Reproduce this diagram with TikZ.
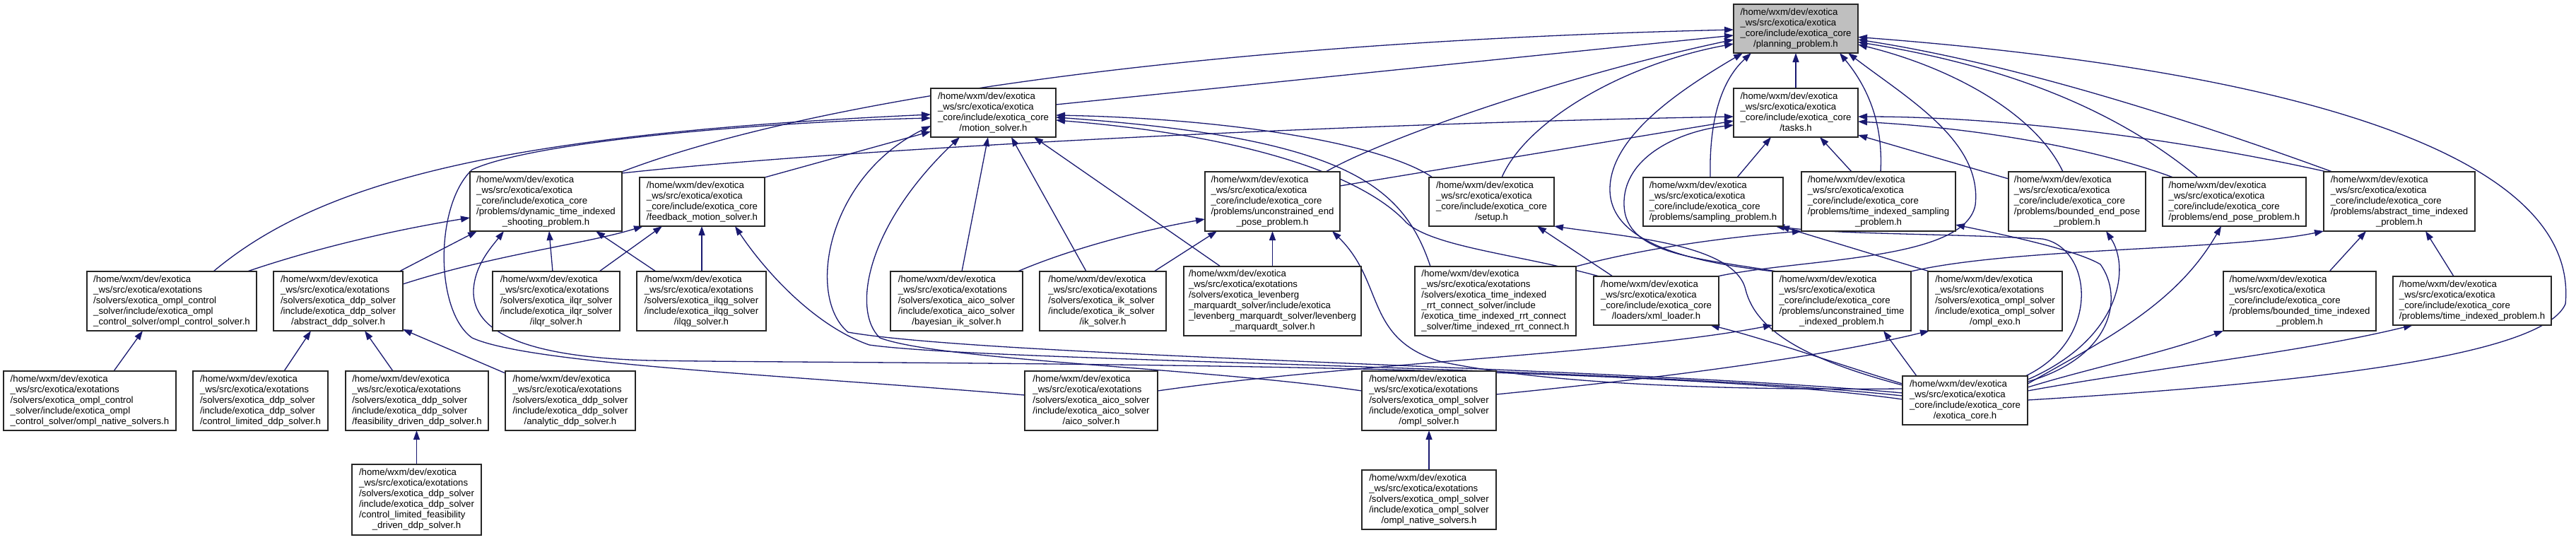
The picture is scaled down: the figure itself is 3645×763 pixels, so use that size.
\documentclass[tikz,border=0pt]{standalone}
\usepackage{fontspec}
\setmainfont{Liberation Sans}
\usetikzlibrary{arrows.meta}
\definecolor{mblue}{HTML}{191970}
\definecolor{ppgray}{HTML}{BFBFBF}
\newcommand{\fsz}{\fontsize{13.2}{15}\selectfont}
\newcommand{\nlab}[2]{\begin{tabular}{@{}l@{}}#1\\\multicolumn{1}{@{}c@{}}{#2}\end{tabular}}
\newcommand{\cpre}{/home/wxm/dev/exotica\\\_ws/src/exotica/exotica\\\_core/include/exotica\_core}
\newcommand{\spre}{/home/wxm/dev/exotica\\\_ws/src/exotica/exotations}
\pgfdeclarelayer{back}
\pgfdeclarelayer{edges}
\pgfsetlayers{back,edges,main}
\begin{document}
\begin{tikzpicture}[x=1pt,y=-1pt,
  box/.style={draw=black!85, line width=1.4pt, fill=white, inner sep=0pt, font=\fsz, text=black},
  edge/.style={draw=mblue, line width=1.3pt, -{Triangle[length=13pt,width=9pt]}}]
\useasboundingbox (0,0) rectangle (3645,763);
\begin{pgfonlayer}{back}
\fill[white] (0,0) rectangle (3645,763);
\end{pgfonlayer}
% rank 1
\node[box,minimum width=176pt,minimum height=69pt,fill=ppgray] (PP) at (2541,40.5) {\nlab{\cpre}{/planning\_problem.h}};
% rank 2
\node[box,minimum width=177pt,minimum height=69pt] (MS) at (1405.5,159.5) {\nlab{\cpre}{/motion\_solver.h}};
\node[box,minimum width=176pt,minimum height=69pt] (TK) at (2541,159.5) {\nlab{\cpre}{/tasks.h}};
% rank 3
\node[box,minimum width=215pt,minimum height=84pt] (DT) at (772.5,285) {\nlab{\cpre\\/problems/dynamic\_time\_indexed}{\_shooting\_problem.h}};
\node[box,minimum width=177pt,minimum height=69pt] (FM) at (993.5,285.5) {\nlab{\cpre}{/feedback\_motion\_solver.h}};
\node[box,minimum width=191pt,minimum height=84pt] (UEP) at (1800.5,285) {\nlab{\cpre\\/problems/unconstrained\_end}{\_pose\_problem.h}};
\node[box,minimum width=177pt,minimum height=69pt] (SU) at (2110.5,285.5) {\nlab{\cpre}{/setup.h}};
\node[box,minimum width=198pt,minimum height=69pt] (SP) at (2424,285.5) {\nlab{\cpre}{/problems/sampling\_problem.h}};
\node[box,minimum width=218pt,minimum height=84pt] (TIS) at (2658,285) {\nlab{\cpre\\/problems/time\_indexed\_sampling}{\_problem.h}};
\node[box,minimum width=194pt,minimum height=84pt] (BEP) at (2939,285) {\nlab{\cpre\\/problems/bounded\_end\_pose}{\_problem.h}};
\node[box,minimum width=203pt,minimum height=69pt] (EP) at (3161.5,285.5) {\nlab{\cpre}{/problems/end\_pose\_problem.h}};
\node[box,minimum width=214pt,minimum height=84pt] (ATI) at (3395,285) {\nlab{\cpre\\/problems/abstract\_time\_indexed}{\_problem.h}};
% rank 4
\node[box,minimum width=240pt,minimum height=84pt] (OCS) at (243,426) {\nlab{\spre\\/solvers/exotica\_ompl\_control\\\_solver/include/exotica\_ompl}{\_control\_solver/ompl\_control\_solver.h}};
\node[box,minimum width=183pt,minimum height=84pt] (ADS) at (478.5,426) {\nlab{\spre\\/solvers/exotica\_ddp\_solver\\/include/exotica\_ddp\_solver}{/abstract\_ddp\_solver.h}};
\node[box,minimum width=180pt,minimum height=84pt] (ILQR) at (787,426) {\nlab{\spre\\/solvers/exotica\_ilqr\_solver\\/include/exotica\_ilqr\_solver}{/ilqr\_solver.h}};
\node[box,minimum width=183pt,minimum height=84pt] (ILQG) at (992.5,426) {\nlab{\spre\\/solvers/exotica\_ilqg\_solver\\/include/exotica\_ilqg\_solver}{/ilqg\_solver.h}};
\node[box,minimum width=187pt,minimum height=84pt] (BIK) at (1353.5,426) {\nlab{\spre\\/solvers/exotica\_aico\_solver\\/include/exotica\_aico\_solver}{/bayesian\_ik\_solver.h}};
\node[box,minimum width=179pt,minimum height=84pt] (IK) at (1560.5,426) {\nlab{\spre\\/solvers/exotica\_ik\_solver\\/include/exotica\_ik\_solver}{/ik\_solver.h}};
\node[box,minimum width=251pt,minimum height=98pt] (LM) at (1800.5,426) {\nlab{\spre\\/solvers/exotica\_levenberg\\\_marquardt\_solver/include/exotica\\\_levenberg\_marquardt\_solver/levenberg}{\_marquardt\_solver.h}};
\node[box,minimum width=228pt,minimum height=98pt] (RRT) at (2116,426) {\nlab{\spre\\/solvers/exotica\_time\_indexed\\\_rrt\_connect\_solver/include\\/exotica\_time\_indexed\_rrt\_connect}{\_solver/time\_indexed\_rrt\_connect.h}};
\node[box,minimum width=177pt,minimum height=69pt] (XML) at (2343.5,425.5) {\nlab{\cpre}{/loaders/xml\_loader.h}};
\node[box,minimum width=196pt,minimum height=84pt] (UTI) at (2606,426) {\nlab{\cpre\\/problems/unconstrained\_time}{\_indexed\_problem.h}};
\node[box,minimum width=190pt,minimum height=84pt] (OEXO) at (2823,426) {\nlab{\spre\\/solvers/exotica\_ompl\_solver\\/include/exotica\_ompl\_solver}{/ompl\_exo.h}};
\node[box,minimum width=216pt,minimum height=84pt] (BTI) at (3254,426) {\nlab{\cpre\\/problems/bounded\_time\_indexed}{\_problem.h}};
\node[box,minimum width=224pt,minimum height=69pt] (TIP) at (3498,425.5) {\nlab{\cpre}{/problems/time\_indexed\_problem.h}};
% rank 5
\node[box,minimum width=244pt,minimum height=84pt] (ONC) at (127,567) {\nlab{\spre\\/solvers/exotica\_ompl\_control\\\_solver/include/exotica\_ompl}{\_control\_solver/ompl\_native\_solvers.h}};
\node[box,minimum width=191pt,minimum height=84pt] (CLD) at (368.5,567) {\nlab{\spre\\/solvers/exotica\_ddp\_solver\\/include/exotica\_ddp\_solver}{/control\_limited\_ddp\_solver.h}};
\node[box,minimum width=202pt,minimum height=84pt] (FDD) at (590,567) {\nlab{\spre\\/solvers/exotica\_ddp\_solver\\/include/exotica\_ddp\_solver}{/feasibility\_driven\_ddp\_solver.h}};
\node[box,minimum width=184pt,minimum height=84pt] (AD) at (807,567) {\nlab{\spre\\/solvers/exotica\_ddp\_solver\\/include/exotica\_ddp\_solver}{/analytic\_ddp\_solver.h}};
\node[box,minimum width=188pt,minimum height=84pt] (AICO) at (1544,567) {\nlab{\spre\\/solvers/exotica\_aico\_solver\\/include/exotica\_aico\_solver}{/aico\_solver.h}};
\node[box,minimum width=190pt,minimum height=84pt] (OS) at (2022,567) {\nlab{\spre\\/solvers/exotica\_ompl\_solver\\/include/exotica\_ompl\_solver}{/ompl\_solver.h}};
\node[box,minimum width=177pt,minimum height=69pt] (EC) at (2780.5,566.5) {\nlab{\cpre}{/exotica\_core.h}};
% rank 6
\node[box,minimum width=183pt,minimum height=100pt] (CLF) at (589.5,707) {\nlab{\spre\\/solvers/exotica\_ddp\_solver\\/include/exotica\_ddp\_solver\\/control\_limited\_feasibility}{\_driven\_ddp\_solver.h}};
\node[box,minimum width=190pt,minimum height=84pt] (ONS) at (2022,707) {\nlab{\spre\\/solvers/exotica\_ompl\_solver\\/include/exotica\_ompl\_solver}{/ompl\_native\_solvers.h}};

\begin{pgfonlayer}{edges}
% into planning_problem
\draw[edge] ([shift={(0,-34.5)}]TK.center) -- ([shift={(0,34.5)}]PP.center);
\draw[edge] ([shift={(88.5,-11.5)}]MS.center) -- ([shift={(-88,9.5)}]PP.center);
\draw[edge] ([shift={(107.5,-42)}]DT.center) .. controls (1150,140) and (1700,60) .. ([shift={(-88,1.5)}]PP.center);
\draw[edge] ([shift={(75.5,-42)}]UEP.center) .. controls (1950,200) and (2200,110) .. ([shift={(-88,15.5)}]PP.center);
\draw[edge] ([shift={(14.5,-34.5)}]SU.center) .. controls (2160,170) and (2300,90) .. ([shift={(-88,21.5)}]PP.center);
\draw[edge] ([shift={(-96,-42)}]UTI.center) .. controls (2380,370) and (2280,340) .. (2278,270) .. controls (2276,190) and (2390,120) .. ([shift={(-75,34.5)}]PP.center);
\draw[edge] ([shift={(-4,-34.5)}]SP.center) .. controls (2418,160) and (2440,110) .. ([shift={(-63,34.5)}]PP.center);
\draw[edge] ([shift={(3,-42)}]TIS.center) .. controls (2665,170) and (2640,120) .. ([shift={(62,34.5)}]PP.center);
\draw[edge] ([shift={(86.5,-34.5)}]XML.center) .. controls (2550,365) and (2780,370) .. (2795,290) .. controls (2805,200) and (2700,140) .. ([shift={(74,34.5)}]PP.center);
\draw[edge] ([shift={(88.5,-0.5)}]EC.center) .. controls (3300,540) and (3600,500) .. (3630,430) .. controls (3650,220) and (3250,100) .. ([shift={(88,12)}]PP.center);
\draw[edge] ([shift={(-95,-42)}]ATI.center) .. controls (3100,170) and (2850,90) .. ([shift={(88,15.5)}]PP.center);
\draw[edge] ([shift={(-51.5,-34.5)}]EP.center) .. controls (3000,160) and (2850,95) .. ([shift={(88,19)}]PP.center);
\draw[edge] ([shift={(-20,-42)}]BEP.center) .. controls (2880,160) and (2760,95) .. ([shift={(88,22.5)}]PP.center);
% into tasks
\draw[edge] ([shift={(107.5,-40)}]DT.center) .. controls (1200,210) and (1900,175) .. ([shift={(-88,5.5)}]TK.center);
\draw[edge] ([shift={(95.5,-22)}]UEP.center) -- ([shift={(-88,11.5)}]TK.center);
\draw[edge] ([shift={(-92,-42)}]UTI.center) .. controls (2400,365) and (2300,360) .. (2298,290) .. controls (2296,220) and (2380,185) .. ([shift={(-88,17.5)}]TK.center);
\draw[edge] ([shift={(34,-34.5)}]SP.center) -- ([shift={(-35,34.5)}]TK.center);
\draw[edge] ([shift={(-38,-42)}]TIS.center) -- ([shift={(34,34.5)}]TK.center);
\draw[edge] ([shift={(-103,-42)}]ATI.center) .. controls (3100,200) and (2850,165) .. ([shift={(88,5.5)}]TK.center);
\draw[edge] ([shift={(-86.5,-34.5)}]EP.center) .. controls (2950,205) and (2780,180) .. ([shift={(88,12.5)}]TK.center);
\draw[edge] ([shift={(-97,-32)}]BEP.center) -- ([shift={(88,31.5)}]TK.center);
% into motion_solver
\draw[edge] ([shift={(59,-42)}]OCS.center) .. controls (450,260) and (700,190) .. ([shift={(-88.5,2.5)}]MS.center);
\draw[edge] ([shift={(-94,-8)}]AICO.center) .. controls (1100,530) and (750,515) .. (668,478) .. controls (615,440) and (615,290) .. (668,240) .. controls (760,198) and (1100,172) .. ([shift={(-88.5,7.5)}]MS.center);
\draw[edge] ([shift={(-88.5,-10.5)}]EC.center) .. controls (2300,520) and (1400,505) .. (1200,470) .. controls (1140,420) and (1170,250) .. ([shift={(-88.5,18.5)}]MS.center);
\draw[edge] ([shift={(88.5,-34.5)}]FM.center) -- ([shift={(-88.5,26.5)}]MS.center);
\draw[edge] ([shift={(-95,-14)}]OS.center) .. controls (1700,520) and (1330,510) .. (1245,478) .. controls (1205,440) and (1225,320) .. ([shift={(-47.5,34.5)}]MS.center);
\draw[edge] ([shift={(7.5,-42)}]BIK.center) -- ([shift={(-7.5,34.5)}]MS.center);
\draw[edge] ([shift={(-23.5,-42)}]IK.center) -- ([shift={(25.5,34.5)}]MS.center);
\draw[edge] ([shift={(-73.5,-49)}]LM.center) -- ([shift={(57.5,34.5)}]MS.center);
\draw[edge] ([shift={(-83.5,-34.5)}]SU.center) .. controls (1960,205) and (1750,168) .. ([shift={(88.5,3.5)}]MS.center);
\draw[edge] ([shift={(-92,-49)}]RRT.center) .. controls (1985,260) and (1900,195) .. ([shift={(88.5,6.5)}]MS.center);
\draw[edge] ([shift={(-80.5,-34.5)}]XML.center) .. controls (2150,360) and (2030,350) .. (1990,315) .. controls (1940,260) and (1800,195) .. ([shift={(88.5,10.5)}]MS.center);
% into dynamic_time_indexed_shooting_problem
\draw[edge] ([shift={(107,-42)}]OCS.center) .. controls (450,350) and (560,325) .. ([shift={(-107.5,23)}]DT.center);
\draw[edge] ([shift={(86.5,-42)}]ADS.center) -- ([shift={(-97.5,42)}]DT.center);
\draw[edge] ([shift={(-88.5,-1.5)}]EC.center) .. controls (2300,510) and (1200,515) .. (920,510) .. controls (720,505) and (668,460) .. (670,410) .. controls (672,375) and (695,350) .. ([shift={(-59.5,42)}]DT.center);
\draw[edge] ([shift={(-5,-42)}]ILQR.center) -- ([shift={(4.5,42)}]DT.center);
\draw[edge] ([shift={(-64.5,-42)}]ILQG.center) -- ([shift={(70.5,42)}]DT.center);
% into feedback_motion_solver
\draw[edge] ([shift={(91.5,-24)}]ADS.center) .. controls (700,360) and (830,345) .. ([shift={(-83.5,34.5)}]FM.center);
\draw[edge] ([shift={(61,-42)}]ILQR.center) -- ([shift={(-56.5,34.5)}]FM.center);
\draw[edge] ([shift={(0.5,-42)}]ILQG.center) -- ([shift={(-0.5,34.5)}]FM.center);
\draw[edge] ([shift={(-88.5,-6.5)}]EC.center) .. controls (2300,518) and (1400,512) .. (1230,488) .. controls (1150,460) and (1080,380) .. ([shift={(46.5,34.5)}]FM.center);
% into unconstrained_end_pose_problem
\draw[edge] ([shift={(86.5,-42)}]BIK.center) .. controls (1520,350) and (1620,325) .. ([shift={(-95.5,25)}]UEP.center);
\draw[edge] ([shift={(72.5,-42)}]IK.center) -- ([shift={(-78.5,42)}]UEP.center);
\draw[edge] ([shift={(0,-49)}]LM.center) -- ([shift={(0,42)}]UEP.center);
\draw[edge] ([shift={(-88.5,-16.5)}]EC.center) .. controls (2450,552) and (2200,545) .. (2040,512) .. controls (1930,480) and (1960,400) .. ([shift={(84.5,42)}]UEP.center);
% into setup
\draw[edge] ([shift={(-61.5,-34.5)}]XML.center) -- ([shift={(64.5,34.5)}]SU.center);
\draw[edge] ([shift={(-88.5,-21.5)}]EC.center) .. controls (2560,510) and (2485,470) .. (2470,410) .. controls (2455,345) and (2300,335) .. ([shift={(88.5,34.5)}]SU.center);
% into sampling / time indexed sampling
\draw[edge] ([shift={(85.5,-34.5)}]EC.center) .. controls (2975,480) and (2960,350) .. (2890,338) .. controls (2750,330) and (2600,332) .. ([shift={(88,34.5)}]SP.center);
\draw[edge] ([shift={(-93,-42)}]OEXO.center) -- ([shift={(95,34.5)}]SP.center);
\draw[edge] ([shift={(114,-49)}]RRT.center) .. controls (2330,350) and (2450,335) .. ([shift={(-109,42)}]TIS.center);
\draw[edge] ([shift={(88.5,-26.5)}]EC.center) .. controls (2990,505) and (3005,420) .. (2972,374) .. controls (2940,355) and (2850,335) .. ([shift={(109,33)}]TIS.center);
% other problems
\draw[edge] ([shift={(88.5,-29.5)}]EC.center) .. controls (3000,480) and (3015,380) .. ([shift={(41,42)}]BEP.center);
\draw[edge] ([shift={(88.5,-23.5)}]EC.center) .. controls (2980,480) and (3080,430) .. ([shift={(-18.5,34.5)}]EP.center);
\draw[edge] ([shift={(88.5,-18.5)}]EC.center) .. controls (2960,520) and (3060,500) .. ([shift={(-108,42)}]BTI.center);
\draw[edge] ([shift={(88.5,-13.5)}]EC.center) .. controls (3050,520) and (3250,500) .. ([shift={(-84,34.5)}]TIP.center);
\draw[edge] ([shift={(-88.5,-23.5)}]EC.center) .. controls (2600,515) and (2500,480) .. ([shift={(76.5,34.5)}]XML.center);
\draw[edge] ([shift={(-68.5,-34.5)}]EC.center) -- ([shift={(59,42)}]UTI.center);
\draw[edge] ([shift={(94,-14)}]AICO.center) .. controls (1900,515) and (2300,500) .. ([shift={(-98,34)}]UTI.center);
\draw[edge] ([shift={(98,-42)}]UTI.center) .. controls (2850,350) and (3150,355) .. ([shift={(-107,42)}]ATI.center);
\draw[edge] ([shift={(42,-42)}]BTI.center) -- ([shift={(-47,42)}]ATI.center);
\draw[edge] ([shift={(-26,-34.5)}]TIP.center) -- ([shift={(37,42)}]ATI.center);
\draw[edge] ([shift={(95,-9)}]OS.center) .. controls (2400,530) and (2600,500) .. ([shift={(-93,42)}]OEXO.center);
% lower solvers
\draw[edge] ([shift={(34,-42)}]ONC.center) -- ([shift={(-41,42)}]OCS.center);
\draw[edge] ([shift={(33.5,-42)}]CLD.center) -- ([shift={(-38.5,42)}]ADS.center);
\draw[edge] ([shift={(-34,-42)}]FDD.center) -- ([shift={(37.5,42)}]ADS.center);
\draw[edge] ([shift={(-92,-39)}]AD.center) -- ([shift={(91.5,40)}]ADS.center);
\draw[edge] ([shift={(0,-50)}]CLF.center) -- ([shift={(-0.5,42)}]FDD.center);
\draw[edge] ([shift={(0,-42)}]ONS.center) -- ([shift={(0,42)}]OS.center);
\end{pgfonlayer}
\end{tikzpicture}
\end{document}
